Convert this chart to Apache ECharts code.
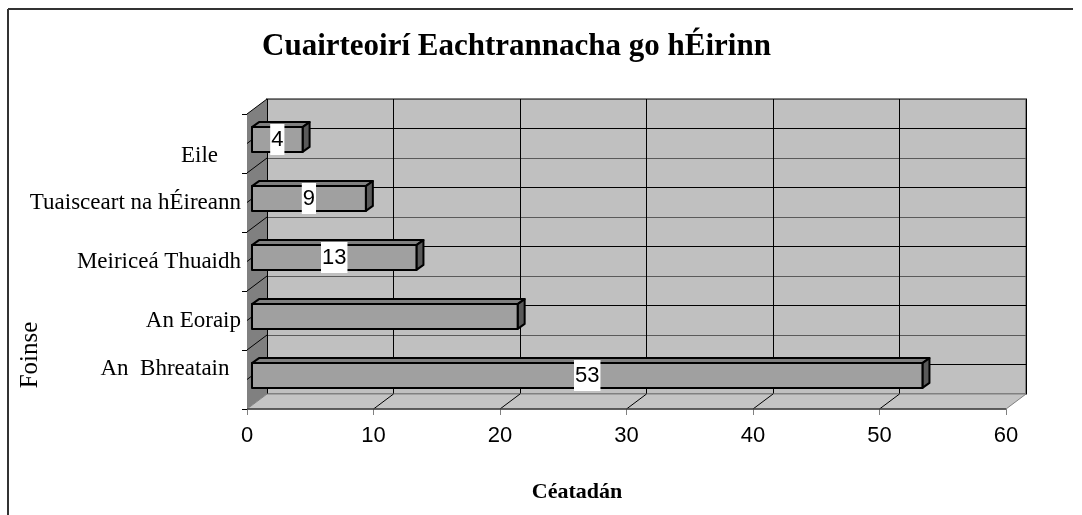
<!DOCTYPE html>
<html>
<head>
<meta charset="utf-8">
<title>Cuairteoirí Eachtrannacha go hÉirinn</title>
<script src="https://cdn.jsdelivr.net/npm/echarts@6/dist/echarts.min.js"></script>
<style>
html, body { margin: 0; padding: 0; background: #fff; }
#main { width: 1082px; height: 515px; }
</style>
</head>
<body>
<div id="main"></div>
<script>
// catagóirí, ó bhun go barr
var categories = ['An  Bhreatain  ', 'An Eoraip', 'Meiriceá Thuaidh', 'Tuaisceart na hÉireann', 'Eile    '];
var values = [53, 21, 13, 9, 4];
// lipéid ar na barraí (níl lipéad ar An Eoraip sa bhunchairt)
var barLabels = ['53', '', '13', '9', '4'];
var xTicks = [0, 10, 20, 30, 40, 50, 60];

// doimhneacht 3D an urláir / an bhalla
var DX = 20, DY = 15;
var SERIF = '"Liberation Serif", "Times New Roman", serif';
var SANS = '"Liberation Sans", Arial, sans-serif';

var chart = echarts.init(document.getElementById('main'));

function renderWalls(params, api) {
    var band = api.size([0, 1])[1];
    var last = categories.length - 1;
    var bl = api.coord([0, 0]); bl[1] += band / 2;
    var tl = api.coord([0, last]); tl[1] -= band / 2;
    var br = api.coord([xTicks[xTicks.length - 1], 0]); br[1] += band / 2;
    var kids = [];
    // balla clé
    kids.push({
        type: 'polygon',
        shape: {points: [[tl[0], tl[1]], [tl[0] + DX, tl[1] - DY], [bl[0] + DX, bl[1] - DY], [bl[0], bl[1]]]},
        style: {fill: '#808080'}
    });
    // urlár
    kids.push({
        type: 'polygon',
        shape: {points: [[bl[0], bl[1]], [bl[0] + DX, bl[1] - DY], [br[0] + DX, br[1] - DY], [br[0], br[1]]]},
        style: {fill: '#c4c4c4', stroke: '#808080', lineWidth: 1}
    });
    // línte trasna an urláir
    for (var i = 1; i < xTicks.length - 1; i++) {
        var p = api.coord([xTicks[i], 0]);
        kids.push({
            type: 'line',
            shape: {x1: p[0], y1: bl[1], x2: p[0] + DX, y2: bl[1] - DY},
            style: {stroke: '#000', lineWidth: 1}
        });
    }
    // línte ar an mballa clé
    for (var k = 0; k < categories.length * 2; k++) {
        var y = tl[1] + k * band / 2;
        kids.push({
            type: 'line',
            shape: {x1: tl[0], y1: y, x2: tl[0] + DX, y2: y - DY},
            style: {stroke: '#000', lineWidth: 1}
        });
    }
    // imeall tosaigh an urláir
    kids.push({
        type: 'line',
        shape: {x1: bl[0], y1: bl[1], x2: br[0], y2: br[1]},
        style: {stroke: '#404040', lineWidth: 1.5}
    });
    return {type: 'group', children: kids};
}

function renderBar(params, api) {
    var idx = params.dataIndex;
    var start = api.coord([0, api.value(1)]);
    var end = api.coord([api.value(0), api.value(1)]);
    var band = api.size([0, 1])[1];
    var h = band * 0.42;
    var ox = 5, oy = -4;   // an barra istigh sa doimhneacht
    var bx = 7, by = -5;   // doimhneacht an bharra
    var x0 = start[0] + ox, x1 = end[0] + ox;
    var yc = start[1] + oy;
    var y0 = yc - h / 2, y1 = yc + h / 2;
    var edge = {stroke: '#000', lineWidth: 2, lineJoin: 'round'};
    var kids = [
        {type: 'polygon', shape: {points: [[x0, y0], [x0 + bx, y0 + by], [x1 + bx, y0 + by], [x1, y0]]},
            style: Object.assign({fill: '#808080'}, edge)},
        {type: 'polygon', shape: {points: [[x1, y0], [x1 + bx, y0 + by], [x1 + bx, y1 + by], [x1, y1]]},
            style: Object.assign({fill: '#5a5a5a'}, edge)},
        {type: 'rect', shape: {x: x0, y: y0, width: x1 - x0, height: h},
            style: Object.assign({fill: '#a0a0a0'}, edge)}
    ];
    if (barLabels[idx]) {
        kids.push({
            type: 'text',
            x: (x0 + x1) / 2, y: yc,
            style: {
                text: barLabels[idx], fill: '#000',
                font: '22px ' + SANS,
                align: 'center', verticalAlign: 'middle',
                backgroundColor: '#fff', padding: [5, 1, 4, 1]
            }
        });
    }
    return {type: 'group', children: kids};
}

var options = {
    animation: false,
    backgroundColor: '#fff',
    title: {
        text: 'Cuairteoirí Eachtrannacha go hÉirinn',
        left: 257, top: 26,
        textStyle: {fontFamily: SERIF, fontWeight: 'bold', fontSize: 31, color: '#000'}
    },
    grid: [
        {left: 247, top: 114, width: 759, height: 295, show: false},
        {left: 267, top: 99, width: 759, height: 295, show: true,
            backgroundColor: '#c0c0c0', borderColor: '#808080', borderWidth: 2}
    ],
    xAxis: [
        {
            type: 'value', gridIndex: 0, min: 0, max: 60, interval: 10,
            axisLine: {show: false},
            axisTick: {show: true, length: 6, lineStyle: {color: '#808080'}},
            axisLabel: {margin: 16, fontSize: 22, color: '#000', fontFamily: SANS},
            splitLine: {show: false}
        },
        {
            type: 'value', gridIndex: 1, min: 0, max: 60, interval: 10,
            axisLine: {show: false}, axisTick: {show: false}, axisLabel: {show: false},
            splitLine: {show: true, lineStyle: {color: '#000', width: 1}}
        }
    ],
    yAxis: [
        {
            type: 'category', gridIndex: 0, data: categories,
            axisLine: {show: false},
            axisTick: {show: true, length: 5, lineStyle: {color: '#000'}},
            axisLabel: {
                margin: 6, fontSize: 23, color: '#000', fontFamily: SERIF,
                // an chéad lipéad agus an lipéad deireanach beagán as áit, mar a bhí sa bhunchairt
                formatter: function (val, i) {
                    if (i === 0) return '{up|' + val + '}';
                    if (i === categories.length - 1) return '{down|' + val + '}';
                    return val;
                },
                rich: {
                    up: {fontSize: 23, fontFamily: SERIF, color: '#000', padding: [0, 0, 22, 0]},
                    down: {fontSize: 23, fontFamily: SERIF, color: '#000', padding: [24, 0, 0, 0]}
                }
            }
        },
        {
            type: 'value', gridIndex: 1, min: 0, max: 5, interval: 0.5,
            axisLine: {show: false}, axisTick: {show: false}, axisLabel: {show: false},
            splitLine: {show: true, lineStyle: {color: ['#5a5a5a', '#000'], width: 1}}
        }
    ],
    graphic: [
        {type: 'line', shape: {x1: 8, y1: 9, x2: 1073, y2: 9}, style: {stroke: '#333', lineWidth: 2}},
        {type: 'line', shape: {x1: 8, y1: 9, x2: 8, y2: 515}, style: {stroke: '#333', lineWidth: 2}},
        {type: 'text', x: 30, y: 355, rotation: Math.PI / 2,
            style: {text: 'Foinse', fill: '#000', font: '25px ' + SERIF, align: 'center', verticalAlign: 'middle'}},
        {type: 'text', x: 577, y: 492,
            style: {text: 'Céatadán', fill: '#000', font: 'bold 22px ' + SERIF, align: 'center', verticalAlign: 'middle'}}
    ],
    series: [
        {
            type: 'custom', xAxisIndex: 0, yAxisIndex: 0, z: 2, silent: true,
            renderItem: renderWalls,
            data: [[0, 0]]
        },
        {
            type: 'custom', xAxisIndex: 0, yAxisIndex: 0, z: 3,
            renderItem: renderBar,
            encode: {x: 0, y: 1},
            data: values.map(function (v, i) { return [v, i]; })
        }
    ]
};
chart.setOption(options);
</script>
</body>
</html>
